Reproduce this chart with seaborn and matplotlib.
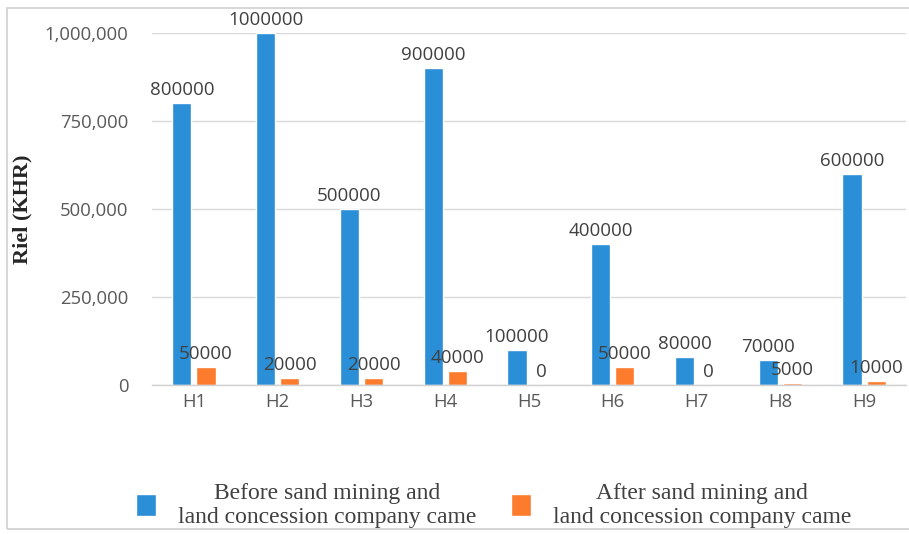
import matplotlib
matplotlib.use("Agg")
import matplotlib.pyplot as plt
from matplotlib.patches import Rectangle
from matplotlib.ticker import FuncFormatter
import seaborn as sns
import pandas as pd

households = ["H1", "H2", "H3", "H4", "H5", "H6", "H7", "H8", "H9"]
before = [800000, 1000000, 500000, 900000, 100000, 400000, 80000, 70000, 600000]
after = [50000, 20000, 20000, 40000, 0, 50000, 0, 5000, 10000]
series_names = [
    "Before sand mining and\nland concession company came",
    "After sand mining and\nland concession company came",
]
colors = ["#2a8fd6", "#fc7b2d"]
y_ticks = [0, 250000, 500000, 750000, 1000000]

df = pd.DataFrame({
    "Household": households * 2,
    "Riel": before + after,
    "Period": [series_names[0]] * len(households) + [series_names[1]] * len(households),
})

sns.set_theme(style="white")
plt.rcParams["font.family"] = ["Open Sans", "DejaVu Sans"]

W, H = 909, 534
fig = plt.figure(figsize=(W / 100, H / 100), dpi=100)
fig.patch.set_facecolor("white")
ax = fig.add_axes([152 / W, (H - 385) / H, 754 / W, 352 / H])

sns.barplot(
    data=df, x="Household", y="Riel", hue="Period",
    hue_order=series_names, order=households,
    palette=colors, width=0.574, gap=0.2, saturation=1,
    ax=ax, legend=True,
)

ax.set_xlim(-0.5, 8.5)
ax.set_ylim(0, 1000000)
ax.set_yticks(y_ticks)
ax.yaxis.set_major_formatter(FuncFormatter(lambda v, p: f"{int(v):,}"))
ax.grid(axis="y", color="#d9d9d9", linewidth=1.0)
ax.set_axisbelow(True)
for s in ["top", "right", "left"]:
    ax.spines[s].set_visible(False)
ax.spines["bottom"].set_color("#d0d0d0")
ax.spines["bottom"].set_linewidth(1.0)
ax.tick_params(axis="both", length=0, labelsize=13.3, labelcolor="#595959")
ax.tick_params(axis="y", pad=17)
ax.tick_params(axis="x", pad=6)
ax.set_xlabel("")
ax.set_ylabel("Riel (KHR)", fontsize=16, fontweight="bold",
              family="Liberation Serif", color="#262626")
ax.yaxis.set_label_coords(-0.158, 0.5)

for cont in ax.containers:
    ax.bar_label(cont, fmt="{:.0f}", padding=3, fontsize=13.5, color="#404040")

handles, labels = ax.get_legend_handles_labels()
ax.get_legend().remove()
leg = fig.legend(
    handles, labels, loc="center", bbox_to_anchor=(0.543, 0.054),
    ncol=2, frameon=False, prop={"family": "Liberation Serif", "size": 17},
    handlelength=0.85, handleheight=1.1, handletextpad=0.9, columnspacing=1.5,
    labelcolor="#404040",
)
for t in leg.get_texts():
    t.set_multialignment("center")
    t.set_linespacing(1.18)

# outer frame of the chart
fig.add_artist(Rectangle((7 / W, (H - 529) / H), 1.05, 521 / H,
                         transform=fig.transFigure, fill=False,
                         edgecolor="#d0d0d0", linewidth=1.2))

fig.savefig("out.png", dpi=100)
